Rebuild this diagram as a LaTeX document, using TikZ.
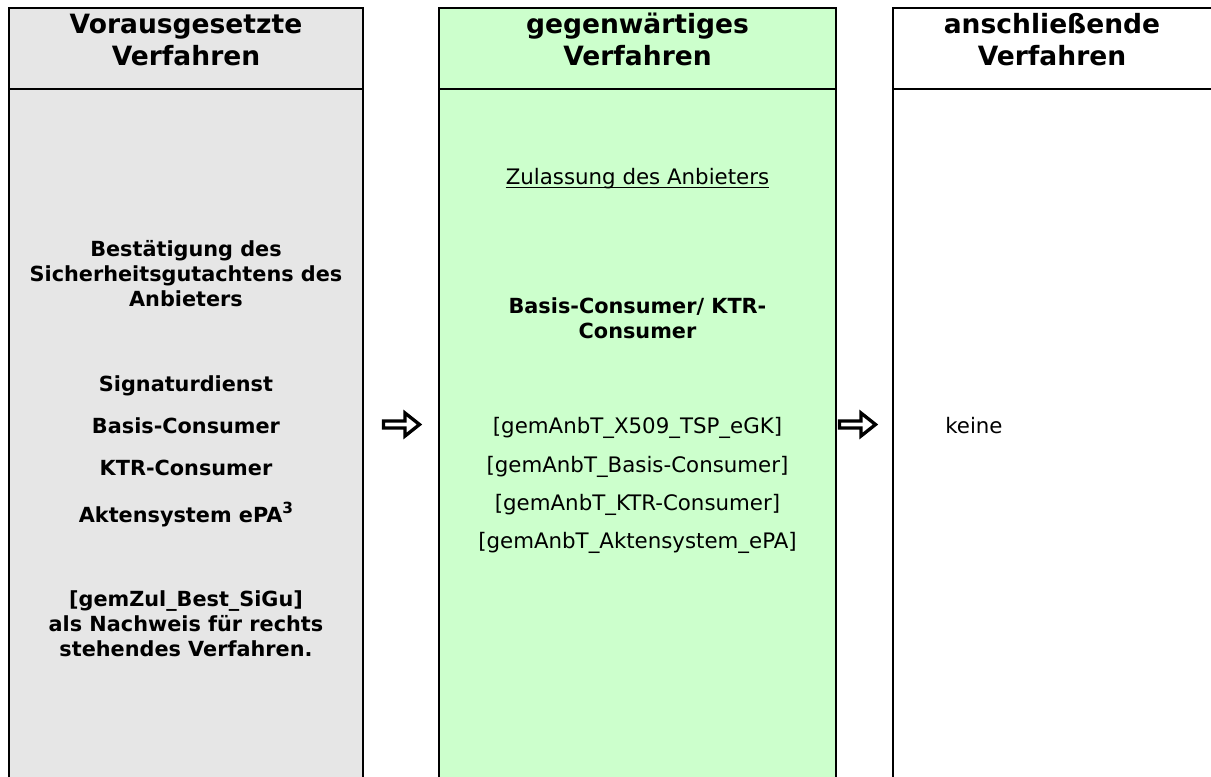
\documentclass[tikz,border=0pt]{standalone}
\usepackage{fontspec}
\setmainfont{DejaVu Sans}
\usepackage{tikz}
\usetikzlibrary{positioning}
\definecolor{vorgrau}{HTML}{E6E6E6}
\definecolor{gegengruen}{HTML}{CCFFCC}
\tikzset{
	kopf/.style={
		rectangle,
		draw=black, line width=1.6pt,
		minimum height=60.75pt,
		inner sep=0pt, outer sep=0pt},
	rumpf/.style={
		rectangle,
		draw=black, line width=1.6pt,
		minimum height=525.75pt,
		inner sep=0pt, outer sep=0pt},
	titel/.style={align=center, inner sep=0pt, anchor=base,
		font=\fontsize{19.9}{23.8}\selectfont\bfseries},
	fett/.style={align=center, inner sep=0pt, anchor=base,
		font=\fontsize{15.6}{18.75}\selectfont\bfseries},
	eintrag/.style={align=center, inner sep=0pt, anchor=base,
		font=\fontsize{16}{18.75}\selectfont},
	pfeil/.style={draw=black, line width=2.5pt, fill=white, line join=miter},
}

\begin{document}
\begin{tikzpicture}[x=0.75pt,y=-0.75pt]
	\useasboundingbox (0,0) rectangle (1211,776);
	% Spalten
	\node[kopf, fill=vorgrau, minimum width=265.5pt] (vorkopf) at (186,48.5) {};
	\node[rumpf, fill=vorgrau, minimum width=265.5pt, below=0pt of vorkopf] (vorrumpf) {};
	\node[kopf, fill=gegengruen, minimum width=297.75pt] (gegkopf) at (637.5,48.5) {};
	\node[rumpf, fill=gegengruen, minimum width=297.75pt, below=0pt of gegkopf] (gegrumpf) {};
	\node[kopf, fill=white, minimum width=241.5pt] (anskopf) at (1054,48.5) {};
	\node[rumpf, fill=white, minimum width=241.5pt, below=0pt of anskopf] (ansrumpf) {};
	% Ueberschriften (Anker = Grundlinie der letzten Zeile)
	\node[titel] (vortitel) at (186,65) {Vorausgesetzte\\Verfahren};
	\node[titel] (gegtitel) at (637.5,65) {gegenwärtiges\\Verfahren};
	\node[titel] (anstitel) at (1052,65) {anschließende\\Verfahren};
	% linke Spalte
	\node[fett] (bestaet) at (186,306) {Bestätigung des\\Sicherheitsgutachtens des\\Anbieters};
	\node[fett] (sigdienst) at (186,391) {Signaturdienst};
	\node[fett] (vorbasis) at (186,433) {Basis-Consumer};
	\node[fett] (vorktr) at (186,475) {KTR-Consumer};
	\node[fett] (vorakten) at (186,522) {Aktensystem ePA\raisebox{6.2pt}{\fontsize{11.5}{11.5}\selectfont 3}};
	\node[fett] (nachweis) at (186,656) {[gemZul\_Best\_SiGu]\\als Nachweis für rechts\\stehendes Verfahren.};
	% mittlere Spalte
	\node[eintrag] (zulassung) at (637.5,184) {Zulassung des Anbieters};
	\draw[line width=1.1pt] ([yshift=-2.6pt]zulassung.base west) -- ([yshift=-2.6pt]zulassung.base east);
	\node[fett] (consumer) at (637.5,338) {Basis-Consumer/ KTR-\\Consumer};
	\node[eintrag] (tsp) at (637.5,433) {[gemAnbT\_X509\_TSP\_eGK]};
	\node[eintrag] (gegbasis) at (637.5,472) {[gemAnbT\_Basis-Consumer]};
	\node[eintrag] (gegktr) at (637.5,510) {[gemAnbT\_KTR-Consumer]};
	\node[eintrag] (gegakten) at (637.5,548) {[gemAnbT\_Aktensystem\_ePA]};
	% rechte Spalte
	\node[eintrag, anchor=base west] (keine) at (945,433) {keine};
	% Pfeile
	\coordinate (pfeilA) at (382,424.5);
	\coordinate (pfeilB) at (838,424.5);
	\draw[pfeil] (pfeilA) ++(1.5,-3.5) -- ++(21.5,0) -- ++(0,-8) -- ++(14.5,11.5)
		-- ++(-14.5,11.5) -- ++(0,-8) -- ++(-21.5,0) -- cycle;
	\draw[pfeil] (pfeilB) ++(1.5,-3.5) -- ++(21.5,0) -- ++(0,-8) -- ++(14.5,11.5)
		-- ++(-14.5,11.5) -- ++(0,-8) -- ++(-21.5,0) -- cycle;
\end{tikzpicture}
\end{document}
